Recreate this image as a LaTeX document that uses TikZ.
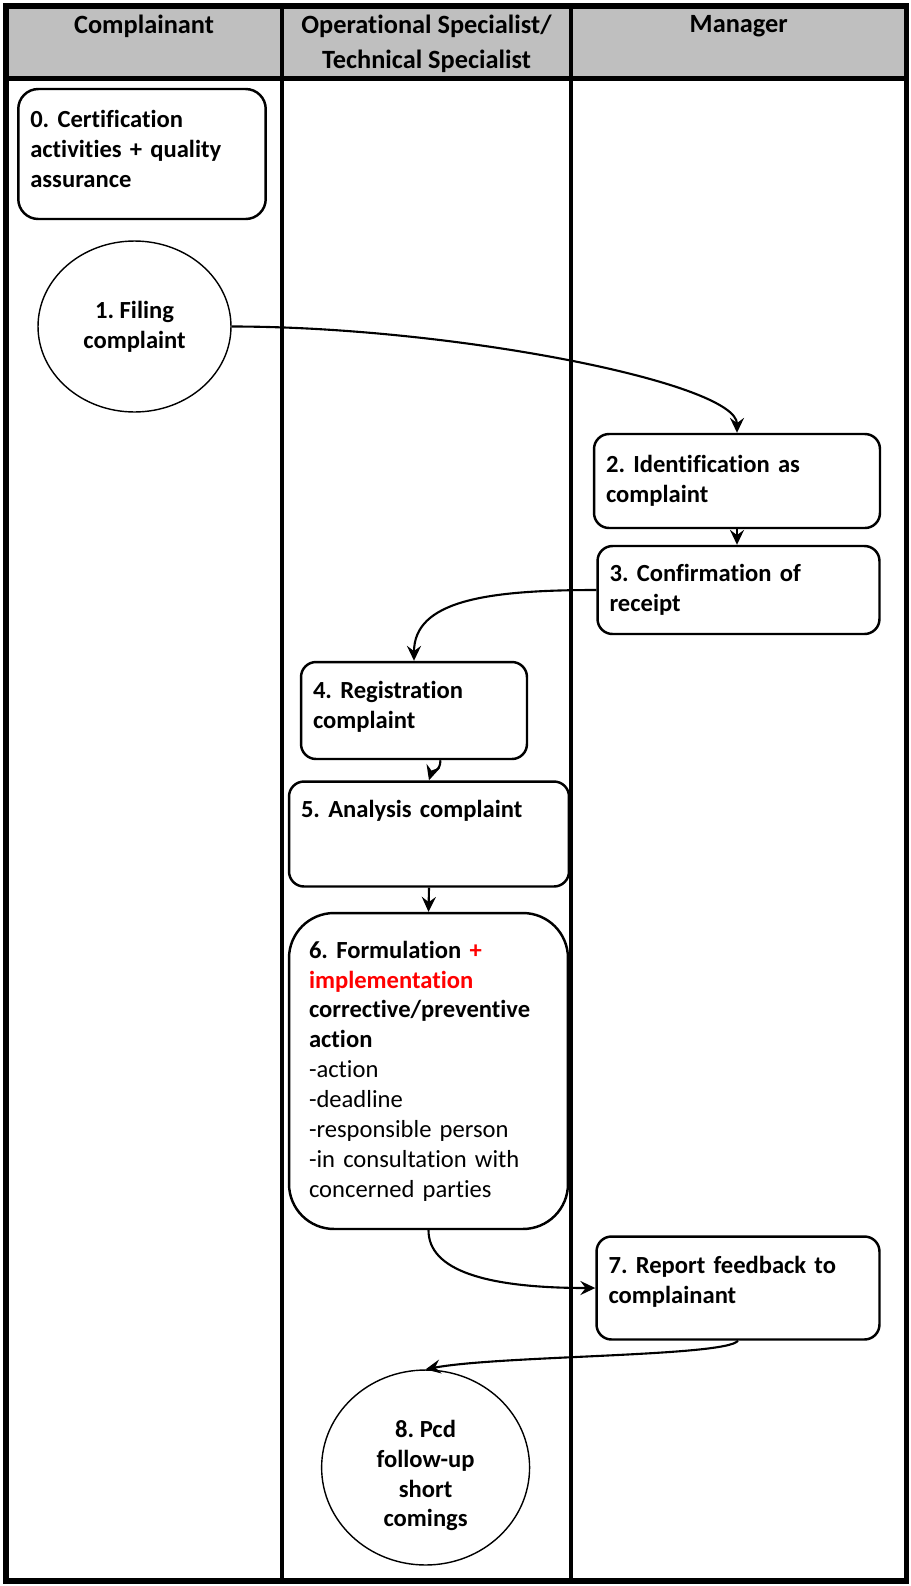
\documentclass[tikz,border=0pt]{standalone}
\usepackage{fontspec}
\setmainfont{Carlito}[Ligatures=NoCommon]
\usepackage{xcolor}
\usetikzlibrary{shapes.geometric, arrows.meta, positioning, calc}
\frenchspacing

\begin{document}
\begin{tikzpicture}[
  x=0.02cm, y=0.02cm,
  font=\fontsize{14}{17}\selectfont\bfseries,
  lanehead/.style={
    font=\fontsize{15}{20}\selectfont\bfseries,
    align=center, inner sep=0pt
  },
  stepbox/.style={
    draw, line width=1.4pt, rounded corners=0.3cm,
    align=left, inner xsep=0pt, inner ysep=0pt
  },
  stepoval/.style={
    draw, ellipse, line width=0.8pt, align=center, inner sep=0pt
  },
  flowarrow/.style={-{Stealth[length=8.5pt,width=8pt,inset=3pt]}, line width=1.2pt},
  laneline/.style={line width=2pt},
  frameline/.style={line width=3pt}
]
\useasboundingbox (0,0) rectangle (911,-1586);

% ── Swimlane table ──────────────────────────────────────────
\fill[black!25] (6,-6) rectangle (906.5,-78.5);
\draw[laneline] (282,-6) -- (282,-1581);
\draw[laneline] (571,-6) -- (571,-1581);
\draw[frameline] (6,-78.5) -- (906.5,-78.5);
\draw[frameline] (6,-6) rectangle (906.5,-1581);

\node[lanehead] (hcompl) at (144,-26.5) {Complainant};
\node[lanehead] (hspec) at (426.5,-44) {Operational Specialist/\\Technical Specialist};
\node[lanehead] (hman) at (738.75,-26.5) {Manager};

% ── Complainant lane ────────────────────────────────────────
\node[stepbox, rounded corners=0.4cm, minimum width=4.95cm, minimum height=2.6cm, text width=4.47cm]
  (b0) at (142,-154) {0. Certification\\activities + quality\\assurance\rule[-6pt]{0pt}{0pt}};
\node[stepoval, minimum width=3.86cm, minimum height=3.42cm]
  (c1) at (134.5,-326.5) {1. Filing\\complaint};

% ── Manager lane ────────────────────────────────────────────
\node[stepbox, minimum width=5.72cm, minimum height=1.88cm, text width=5.24cm]
  (b2) at (737,-481) {2. Identification as\\complaint};
\node[stepbox, minimum width=5.64cm, minimum height=1.76cm, text width=5.16cm]
  (b3) at (738.5,-590) {3. Confirmation of\\receipt};

% ── Specialist lane ─────────────────────────────────────────
\node[stepbox, minimum width=4.52cm, minimum height=1.94cm, text width=4.04cm]
  (b4) at (414,-710.5) {4. Registration\\complaint\rule[-6pt]{0pt}{0pt}};
\node[stepbox, minimum width=5.6cm, minimum height=2.1cm, text width=5.12cm]
  (b5) at (429,-834) {5. Analysis complaint\\[12pt]\mbox{}};
\node[stepbox, rounded corners=0.9cm, minimum width=5.58cm, minimum height=6.32cm, text width=4.78cm]
  (b6) at (428.5,-1071) {6. Formulation \textcolor{red}{+}\\\textcolor{red}{implementation}\\corrective/preventive\\action\\\mdseries -action\\-deadline\\-responsible person\\-in consultation with\\concerned parties};

% ── Feedback ────────────────────────────────────────────────
\node[stepbox, minimum width=5.66cm, minimum height=2.06cm, text width=5.18cm]
  (b7) at (738,-1288) {7. Report feedback to\\complainant\rule[-9pt]{0pt}{0pt}};
\node[stepoval, minimum width=4.16cm, minimum height=3.9cm]
  (c8) at (425.6,-1467.5) {\rule{0pt}{19pt}8. Pcd\\follow-up\\short\\comings};

% ── Flow arrows ─────────────────────────────────────────────
\draw[flowarrow] (c1.east) .. controls +(220,0) and +(0,50) .. (b2.north);
\draw[flowarrow] (b2.south) -- (b2.south |- b3.north);
\draw[flowarrow] (b3.west) .. controls +(-110,0) and +(0,60) .. (b4.north);
\draw[flowarrow] (b4.-62) .. controls +(0,-12) and +(3,10) .. (b5.north);
\draw[flowarrow] (b5.south) -- (b6.north);
\draw[flowarrow] (b6.south) .. controls +(0,-40) and +(-110,0) .. (b7.west);
\draw[flowarrow] (b7.south) .. controls +(-12,-16) and +(74,14) .. (c8.north);

\end{tikzpicture}
\end{document}
